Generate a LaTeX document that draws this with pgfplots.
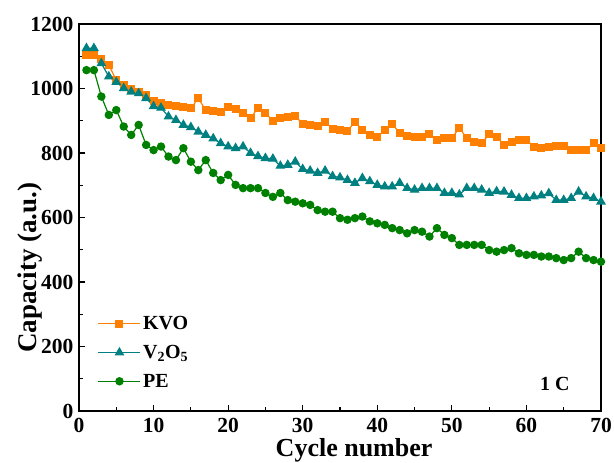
\documentclass[border=0pt]{standalone}
\usepackage{pgfplots}
\pgfplotsset{compat=1.18}
\usepackage{fontspec}
\setmainfont{Liberation Serif}
\definecolor{cKVO}{RGB}{255,128,0}
\definecolor{cV}{RGB}{0,128,128}
\definecolor{cPE}{RGB}{0,128,0}
\begin{document}
\begin{tikzpicture}
\begin{axis}[
  at={(0,0)}, anchor=origin,
  scale only axis, width=522pt, height=387pt,
  xmin=0, xmax=70, ymin=0, ymax=1200,
  xtick={0,10,...,70}, ytick={0,200,...,1200},
  minor xtick={5,15,...,65}, minor ytick={100,300,...,1100},
  xtick pos=left, ytick pos=left, tick align=inside,
  major tick length=6pt, minor tick length=4pt,
  axis line style={line width=1.6pt},
  every tick/.style={line width=1.2pt, black},
  /pgf/number format/assume math mode=true,
  /pgf/number format/1000 sep={},
  ticklabel style={font=\fontsize{21.5}{21.5}\selectfont\bfseries},
  xticklabel style={yshift=-4pt},
  yticklabel style={xshift=-2pt},
  xlabel={Cycle number}, ylabel={Capacity (a.u.)},
  every axis x label/.style={at={(axis description cs:0.527,-0.1163)}, anchor=base, font=\fontsize{26}{26}\selectfont\bfseries},
  every axis y label/.style={at={(axis description cs:-0.094,0.37)}, anchor=center, rotate=90, font=\fontsize{27}{27}\selectfont\bfseries},
  legend style={at={(axis description cs:0.03,0.255)}, anchor=north west, draw=none, fill=none,
    font=\fontsize{20}{20}\selectfont\bfseries, row sep=10pt},
  legend cell align=left,
  legend image code/.code={\draw[mark repeat=2,mark phase=2] plot coordinates {(0pt,0pt) (21pt,0pt) (42pt,0pt)};},
]
\addplot[color=cKVO, line width=1.2pt, mark=square*, mark size=3.4pt, mark options={solid}] coordinates {
(1,1105)(2,1105)(3,1090)(4,1073)(5,1025)(6,1010)(7,998)(8,990)(9,980)(10,962)
(11,955)(12,950)(13,945)(14,942)(15,938)(16,970)(17,932)(18,930)(19,926)(20,942)
(21,935)(22,925)(23,908)(24,940)(25,924)(26,900)(27,908)(28,912)(29,915)(30,890)
(31,887)(32,885)(33,897)(34,875)(35,872)(36,868)(37,897)(38,872)(39,855)(40,850)
(41,870)(42,890)(43,862)(44,852)(45,850)(46,851)(47,858)(48,840)(49,845)(50,847)
(51,877)(52,847)(53,835)(54,830)(55,858)(56,851)(57,825)(58,835)(59,840)(60,840)
(61,820)(62,815)(63,818)(64,822)(65,822)(66,810)(67,810)(68,808)(69,831)(70,817)};
\addlegendentry{KVO}
\addplot[color=cV, line width=1.2pt, mark=triangle*, mark size=4.5pt, mark options={solid}] coordinates {
(1,1125)(2,1125)(3,1078)(4,1037)(5,1020)(6,1001)(7,990)(8,985)(9,970)(10,945)
(11,940)(12,913)(13,902)(14,887)(15,880)(16,866)(17,856)(18,845)(19,830)(20,820)
(21,815)(22,820)(23,800)(24,790)(25,784)(26,782)(27,760)(28,763)(29,773)(30,750)
(31,745)(32,738)(33,745)(34,728)(35,724)(36,716)(37,707)(38,722)(39,712)(40,701)
(41,696)(42,696)(43,707)(44,691)(45,686)(46,691)(47,691)(48,691)(49,676)(50,676)
(51,671)(52,691)(53,691)(54,686)(55,676)(56,681)(57,680)(58,670)(59,660)(60,660)
(61,665)(62,668)(63,675)(64,654)(65,654)(66,660)(67,680)(68,665)(69,660)(70,649)};
\addlegendentry{V\textsubscript{2}O\textsubscript{5}}
\addplot[color=cPE, line width=1.2pt, mark=*, mark size=3.6pt, mark options={solid}] coordinates {
(1,1057)(2,1057)(3,975)(4,918)(5,933)(6,882)(7,856)(8,887)(9,825)(10,809)
(11,820)(12,789)(13,778)(14,815)(15,773)(16,747)(17,778)(18,738)(19,716)(20,732)
(21,701)(22,691)(23,691)(24,691)(25,676)(26,664)(27,676)(28,654)(29,649)(30,644)
(31,639)(32,623)(33,618)(34,618)(35,598)(36,593)(37,598)(38,603)(39,588)(40,582)
(41,577)(42,567)(43,561)(44,551)(45,561)(46,556)(47,541)(48,567)(49,546)(50,536)
(51,515)(52,515)(53,515)(54,515)(55,499)(56,494)(57,499)(58,505)(59,489)(60,484)
(61,484)(62,479)(63,479)(64,474)(65,468)(66,474)(67,494)(68,474)(69,468)(70,463)};
\addlegendentry{PE}
\node[font=\fontsize{20}{20}\selectfont\bfseries, anchor=center] at (axis cs:63.8,84) {1 C};
\end{axis}
\pgfresetboundingbox
\path[use as bounding box] (-79pt,-52pt) rectangle (535pt,411pt);
\end{tikzpicture}
\end{document}
